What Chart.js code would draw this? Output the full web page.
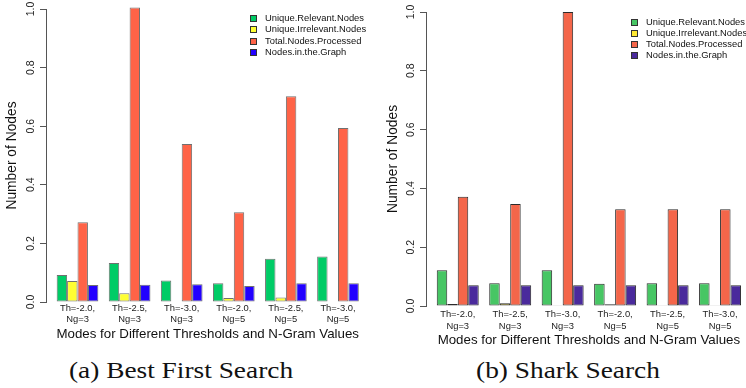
<!DOCTYPE html>
<html>
<head>
<meta charset="utf-8">
<script src="https://cdn.jsdelivr.net/npm/chart.js@4.4.1/dist/chart.umd.min.js"></script>
<style>
  html, body { margin: 0; padding: 0; background: #fff; }
  body { width: 746px; height: 388px; overflow: hidden; position: relative; }
  canvas { position: absolute; top: 0; }
  #bfs { left: 0; }
  #shark { left: 373px; }
  .cap {
    position: absolute; top: 358px;
    font-family: 'Liberation Serif', serif; font-size: 24px; line-height: 24px;
    white-space: nowrap; color: #111;
    transform: translateX(-50%) scaleX(1.14);
  }
</style>
</head>
<body>
<canvas id="bfs" width="373" height="342"></canvas>
<canvas id="shark" width="382" height="348"></canvas>
<div class="cap" style="left:181px">(a) Best First Search</div>
<div class="cap" style="left:568px">(b) Shark Search</div>
<script>
// Threshold / n-gram modes on the x axis
const modes = [
  ['Th=-2.0,', 'Ng=3'], ['Th=-2.5,', 'Ng=3'], ['Th=-3.0,', 'Ng=3'],
  ['Th=-2.0,', 'Ng=5'], ['Th=-2.5,', 'Ng=5'], ['Th=-3.0,', 'Ng=5']
];
const seriesNames = ['Unique.Relevant.Nodes', 'Unique.Irrelevant.Nodes',
                     'Total.Nodes.Processed', 'Nodes.in.the.Graph'];
const yTicks = [0, 0.2, 0.4, 0.6, 0.8, 1.0];

// Best First Search (normalised node counts)
const bfsRelevant   = [0.092, 0.133, 0.073, 0.064, 0.148, 0.155];
const bfsIrrelevant = [0.072, 0.030, 0.002, 0.014, 0.015, 0.002];
const bfsProcessed  = [0.272, 1.005, 0.539, 0.306, 0.702, 0.594];
const bfsGraph      = [0.058, 0.059, 0.061, 0.055, 0.064, 0.064];

// Shark Search (normalised node counts)
const sharkRelevant   = [0.122, 0.077, 0.122, 0.076, 0.077, 0.077];
const sharkIrrelevant = [0.007, 0.009, 0.001, 0.006, 0.001, 0.001];
const sharkProcessed  = [0.372, 0.347, 1.000, 0.329, 0.329, 0.329];
const sharkGraph      = [0.071, 0.071, 0.071, 0.071, 0.071, 0.071];

Chart.defaults.font.family = "'Liberation Sans', Arial, sans-serif";

// Boxed legend drawn inside the plot, top right
const boxLegend = {
  id: 'boxLegend',
  afterDatasetsDraw(chart, args, o) {
    const ctx = chart.ctx;
    ctx.save();
    ctx.font = o.font;
    ctx.textBaseline = 'middle';
    ctx.textAlign = 'left';
    chart.data.datasets.forEach((ds, i) => {
      const y = o.top + i * o.step;
      ctx.fillStyle = ds.backgroundColor;
      ctx.fillRect(o.boxX, Math.round(y - o.box / 2), o.box, o.box);
      ctx.strokeStyle = o.boxBorder;
      ctx.lineWidth = 1;
      ctx.strokeRect(o.boxX + 0.5, Math.round(y - o.box / 2) + 0.5, o.box - 1, o.box - 1);
      ctx.fillStyle = o.color;
      ctx.fillText(ds.label, o.textX, y);
    });
    ctx.restore();
  }
};

function makeChart(id, series, look) {
  const datasets = series.map((vals, k) => ({
    label: seriesNames[k],
    data: vals.map((v, i) => ({ x: i + 1, y: v })),
    backgroundColor: look.colors[k],
    borderColor: look.border,
    borderWidth: 1,
    borderSkipped: false,
    categoryPercentage: 0.8,
    barPercentage: 1.0,
    clip: false
  }));
  return new Chart(document.getElementById(id), {
    type: 'bar',
    data: { datasets },
    plugins: [boxLegend],
    options: {
      responsive: false,
      animation: false,
      devicePixelRatio: 1,
      layout: { padding: { top: look.top, right: look.right, left: 0, bottom: 0 } },
      plugins: {
        legend: { display: false },
        tooltip: { enabled: false },
        boxLegend: look.legend
      },
      scales: {
        x: {
          type: 'linear', min: 0.395, max: 6.605, offset: false,
          grid: { display: false, drawTicks: false },
          border: { display: false },
          afterBuildTicks: s => { s.ticks = modes.map((m, i) => ({ value: i + 1 })); },
          ticks: {
            autoSkip: false, maxRotation: 0, minRotation: 0,
            padding: look.xPad, color: '#222',
            font: { size: 9.4, lineHeight: look.xLine },
            callback: v => modes[v - 1]
          },
          title: {
            display: true, text: 'Modes for Different Thresholds and N-Gram Values',
            color: '#111', font: { size: 13.3, lineHeight: 1.2 }, padding: 0
          },
          afterFit: s => { s.height = look.h - look.bottom; }
        },
        y: {
          min: 0, max: 1,
          afterBuildTicks: s => { s.ticks = yTicks.map(v => ({ value: v })); },
          grid: { drawOnChartArea: false, drawTicks: true, tickLength: 6, color: '#555' },
          border: { display: true, color: '#555', width: 1 },
          ticks: {
            minRotation: 90, maxRotation: 90, crossAlign: 'center',
            padding: 2, color: '#222', font: { size: 10.5 },
            callback: v => v.toFixed(1)
          },
          title: {
            display: true, text: 'Number of Nodes', color: '#111',
            font: { size: 13.8, lineHeight: 1.2 },
            padding: { top: look.yTitlePad, bottom: 0 }
          },
          afterFit: s => { s.width = look.axisX; }
        }
      }
    }
  });
}

makeChart('bfs', [bfsRelevant, bfsIrrelevant, bfsProcessed, bfsGraph], {
  colors: ['#00CC66', '#FFFF33', '#FF6347', '#2200FF'],
  border: '#707070',
  h: 342, top: 9, bottom: 302, right: 3.5, axisX: 46,
  xPad: 0.5, xLine: 1.2, yTitlePad: 4,
  legend: { font: "9.4px 'Liberation Sans'", color: '#111', boxX: 250, textX: 265,
            top: 18, step: 11.5, box: 7, boxBorder: '#333' }
});

makeChart('shark', [sharkRelevant, sharkIrrelevant, sharkProcessed, sharkGraph], {
  colors: ['#47C664', '#FFE933', '#F4664A', '#4A2A9C'],
  border: '#2b2b2b',
  h: 348, top: 12, bottom: 306, right: 3.2, axisX: 53,
  xPad: 2, xLine: 1.28, yTitlePad: 12,
  legend: { font: "9.4px 'Liberation Sans'", color: '#111', boxX: 258, textX: 273,
            top: 22.5, step: 11, box: 7, boxBorder: '#333' }
});
</script>
</body>
</html>
